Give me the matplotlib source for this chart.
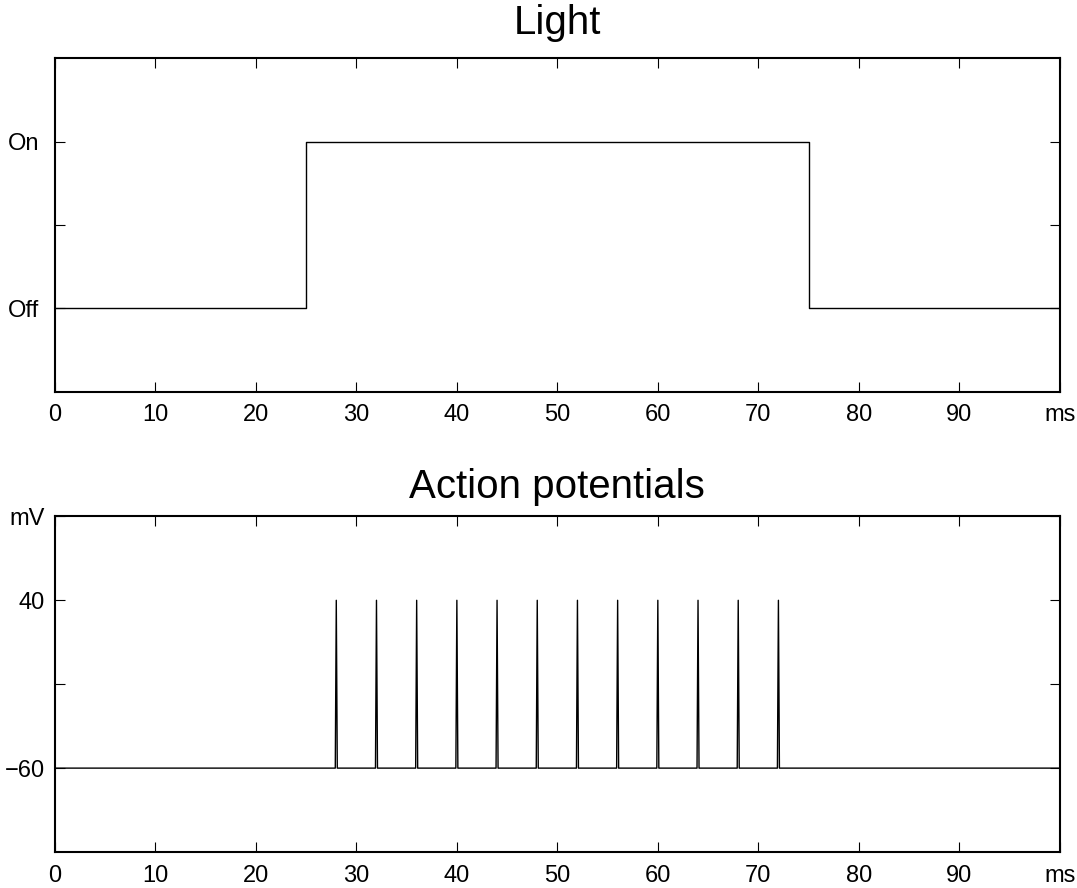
import numpy as np
import matplotlib.pyplot as plt

plt.rcParams['font.family'] = ['Liberation Sans', 'DejaVu Sans']

# light stimulus (ms, state)
light_t = [0, 25, 25, 75, 75, 100]
light_v = [0, 0, 1, 1, 0, 0]

# action potentials
spike_times = [28, 32, 36, 40, 44, 48, 52, 56, 60, 64, 68, 72]
v_rest = -60
v_peak = 40
spike_half_width = 0.1

x_ticks = [0, 10, 20, 30, 40, 50, 60, 70, 80, 90, 100]
x_labels = ['0', '10', '20', '30', '40', '50', '60', '70', '80', '90', 'ms']
light_ticks = [0, 0.5, 1]
light_labels = ['Off', '', 'On']
mv_ticks = [-60, -10, 40, 90]
mv_labels = ['\u221260', '', '40', 'mV']

ap_t = [0]
ap_v = [v_rest]
for s in spike_times:
    ap_t += [s - spike_half_width, s, s + spike_half_width]
    ap_v += [v_rest, v_peak, v_rest]
ap_t.append(100)
ap_v.append(v_rest)

fig = plt.figure(figsize=(10.77, 8.88), dpi=100)
ax1 = fig.add_axes([0.051, 0.5586, 0.933, 0.376])
ax2 = fig.add_axes([0.051, 0.0405, 0.933, 0.378])

ax1.plot(light_t, light_v, color='black', lw=1.0)
ax2.plot(ap_t, ap_v, color='black', lw=1.0)

ax1.set_ylim(-0.5, 1.5)
ax1.set_yticks(light_ticks)
ax1.set_yticklabels(light_labels)
ax1.set_title('Light', fontsize=29, pad=17)

ax2.set_ylim(-110, 90)
ax2.set_yticks(mv_ticks)
ax2.set_yticklabels(mv_labels)
ax2.set_title('Action potentials', fontsize=29, pad=13)

for ax in (ax1, ax2):
    ax.set_xlim(0, 100)
    ax.set_xticks(x_ticks)
    ax.set_xticklabels(x_labels)
    ax.tick_params(direction='in', length=7, width=0.8, top=True, right=True,
                   labelsize=17)
    ax.tick_params(axis='x', pad=9)
    for sp in ax.spines.values():
        sp.set_linewidth(1.5)

ax1.tick_params(axis='y', pad=11.5)
ax2.tick_params(axis='y', pad=7)

fig.savefig('out.png', dpi=100)
